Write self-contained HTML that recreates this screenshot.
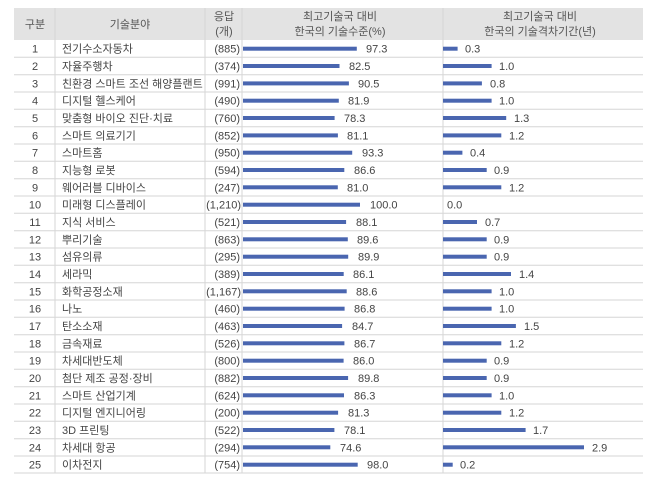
<!DOCTYPE html>
<html><head><meta charset="utf-8"><style>
html,body{margin:0;padding:0;background:#fff;}
svg{display:block;}
text{font-family:"Liberation Sans","Noto Sans CJK KR",sans-serif;font-size:11px;fill:#444;}
.h{font-size:11px;fill:#555;}
.n{text-anchor:middle;}
.r{text-anchor:end;}
.b{fill:#4a66b0;}
.l{stroke:#d6d6d6;stroke-width:1;}
</style></head><body>
<svg width="670" height="479" viewBox="0 0 670 479">
<rect x="14" y="8" width="629" height="32" fill="#e3e3e3"/>
<text class="h n" x="35" y="28">구분</text>
<text class="h n" x="130" y="28">기술분야</text>
<text class="h n" x="224" y="20">응답</text>
<text class="h n" x="224" y="35">(개)</text>
<text class="h n" x="340" y="20">최고기술국 대비</text>
<text class="h n" x="340" y="35">한국의 기술수준(%)</text>
<text class="h n" x="540" y="20">최고기술국 대비</text>
<text class="h n" x="540" y="35">한국의 기술격차기간(년)</text>
<line class="l" x1="55" y1="8" x2="55" y2="473"/>
<line class="l" x1="205" y1="8" x2="205" y2="473"/>
<line class="l" x1="242" y1="8" x2="242" y2="473"/>
<line class="l" x1="443" y1="8" x2="443" y2="473"/>
<g class="l">
<line x1="14" y1="57.3" x2="643" y2="57.3"/><line x1="14" y1="74.7" x2="643" y2="74.7"/><line x1="14" y1="92" x2="643" y2="92"/><line x1="14" y1="109.3" x2="643" y2="109.3"/><line x1="14" y1="126.7" x2="643" y2="126.7"/><line x1="14" y1="144" x2="643" y2="144"/><line x1="14" y1="161.3" x2="643" y2="161.3"/><line x1="14" y1="178.7" x2="643" y2="178.7"/><line x1="14" y1="196" x2="643" y2="196"/><line x1="14" y1="213.3" x2="643" y2="213.3"/><line x1="14" y1="230.7" x2="643" y2="230.7"/><line x1="14" y1="248" x2="643" y2="248"/><line x1="14" y1="265.3" x2="643" y2="265.3"/><line x1="14" y1="282.7" x2="643" y2="282.7"/><line x1="14" y1="300" x2="643" y2="300"/><line x1="14" y1="317.3" x2="643" y2="317.3"/><line x1="14" y1="334.7" x2="643" y2="334.7"/><line x1="14" y1="352" x2="643" y2="352"/><line x1="14" y1="369.3" x2="643" y2="369.3"/><line x1="14" y1="386.7" x2="643" y2="386.7"/><line x1="14" y1="404" x2="643" y2="404"/><line x1="14" y1="421.3" x2="643" y2="421.3"/><line x1="14" y1="438.7" x2="643" y2="438.7"/><line x1="14" y1="456" x2="643" y2="456"/><line x1="14" y1="473" x2="643" y2="473"/>
</g>
<!-- numbers -->
<g class="n">
<text x="35" y="52.7">1</text><text x="35" y="70">2</text><text x="35" y="87.4">3</text><text x="35" y="104.7">4</text><text x="35" y="122">5</text><text x="35" y="139.4">6</text><text x="35" y="156.7">7</text><text x="35" y="174">8</text><text x="35" y="191.3">9</text><text x="35" y="208.7">10</text><text x="35" y="226">11</text><text x="35" y="243.3">12</text><text x="35" y="260.7">13</text><text x="35" y="278">14</text><text x="35" y="295.3">15</text><text x="35" y="312.7">16</text><text x="35" y="330">17</text><text x="35" y="347.3">18</text><text x="35" y="364.7">19</text><text x="35" y="382">20</text><text x="35" y="399.3">21</text><text x="35" y="416.7">22</text><text x="35" y="434">23</text><text x="35" y="451.3">24</text><text x="35" y="468.7">25</text>
</g>
<g>
<text x="62" y="52.7">전기수소자동차</text><text x="62" y="70">자율주행차</text><text x="62" y="87.4">친환경 스마트 조선 해양플랜트</text><text x="62" y="104.7">디지털 헬스케어</text><text x="62" y="122">맞춤형 바이오 진단·치료</text><text x="62" y="139.4">스마트 의료기기</text><text x="62" y="156.7">스마트홈</text><text x="62" y="174">지능형 로봇</text><text x="62" y="191.3">웨어러블 디바이스</text><text x="62" y="208.7">미래형 디스플레이</text><text x="62" y="226">지식 서비스</text><text x="62" y="243.3">뿌리기술</text><text x="62" y="260.7">섬유의류</text><text x="62" y="278">세라믹</text><text x="62" y="295.3">화학공정소재</text><text x="62" y="312.7">나노</text><text x="62" y="330">탄소소재</text><text x="62" y="347.3">금속재료</text><text x="62" y="364.7">차세대반도체</text><text x="62" y="382">첨단 제조 공정·장비</text><text x="62" y="399.3">스마트 산업기계</text><text x="62" y="416.7">디지털 엔지니어링</text><text x="62" y="434">3D 프린팅</text><text x="62" y="451.3">차세대 항공</text><text x="62" y="468.7">이차전지</text>
</g>
<g class="r">
<text x="240" y="52.7">(885)</text><text x="240" y="70">(374)</text><text x="240" y="87.4">(991)</text><text x="240" y="104.7">(490)</text><text x="240" y="122">(760)</text><text x="240" y="139.4">(852)</text><text x="240" y="156.7">(950)</text><text x="240" y="174">(594)</text><text x="240" y="191.3">(247)</text><text x="241" y="208.7">(1,210)</text><text x="240" y="226">(521)</text><text x="240" y="243.3">(863)</text><text x="240" y="260.7">(295)</text><text x="240" y="278">(389)</text><text x="241" y="295.3">(1,167)</text><text x="240" y="312.7">(460)</text><text x="240" y="330">(463)</text><text x="240" y="347.3">(526)</text><text x="240" y="364.7">(800)</text><text x="240" y="382">(882)</text><text x="240" y="399.3">(624)</text><text x="240" y="416.7">(200)</text><text x="240" y="434">(522)</text><text x="240" y="451.3">(294)</text><text x="240" y="468.7">(754)</text>
</g>
<!-- bar1 -->
<g class="b">
<rect x="243" y="46.7" width="113.8" height="4"/><rect x="243" y="64" width="96.5" height="4"/><rect x="243" y="81.4" width="105.9" height="4"/><rect x="243" y="98.7" width="95.8" height="4"/><rect x="243" y="116" width="91.6" height="4"/><rect x="243" y="133.4" width="94.9" height="4"/><rect x="243" y="150.7" width="109.2" height="4"/><rect x="243" y="168" width="101.3" height="4"/><rect x="243" y="185.3" width="94.8" height="4"/><rect x="243" y="202.7" width="117" height="4"/><rect x="243" y="220" width="103.1" height="4"/><rect x="243" y="237.3" width="104.8" height="4"/><rect x="243" y="254.7" width="105.2" height="4"/><rect x="243" y="272" width="100.7" height="4"/><rect x="243" y="289.3" width="103.7" height="4"/><rect x="243" y="306.7" width="101.6" height="4"/><rect x="243" y="324" width="99.1" height="4"/><rect x="243" y="341.3" width="101.4" height="4"/><rect x="243" y="358.7" width="100.6" height="4"/><rect x="243" y="376" width="105.1" height="4"/><rect x="243" y="393.3" width="101" height="4"/><rect x="243" y="410.7" width="95.1" height="4"/><rect x="243" y="428" width="91.4" height="4"/><rect x="243" y="445.3" width="87.3" height="4"/><rect x="243" y="462.7" width="114.7" height="4"/>
</g>
<g>
<text x="366" y="52.7">97.3</text><text x="349" y="70">82.5</text><text x="358" y="87.4">90.5</text><text x="348" y="104.7">81.9</text><text x="344" y="122">78.3</text><text x="347" y="139.4">81.1</text><text x="362" y="156.7">93.3</text><text x="354" y="174">86.6</text><text x="347" y="191.3">81.0</text><text x="370" y="208.7">100.0</text><text x="356" y="226">88.1</text><text x="357" y="243.3">89.6</text><text x="358" y="260.7">89.9</text><text x="353" y="278">86.1</text><text x="356" y="295.3">88.6</text><text x="354" y="312.7">86.8</text><text x="352" y="330">84.7</text><text x="354" y="347.3">86.7</text><text x="353" y="364.7">86.0</text><text x="358" y="382">89.8</text><text x="354" y="399.3">86.3</text><text x="348" y="416.7">81.3</text><text x="344" y="434">78.1</text><text x="340" y="451.3">74.6</text><text x="367" y="468.7">98.0</text>
</g>
<!-- bar2 -->
<g class="b">
<rect x="443" y="46.7" width="14.6" height="4"/><rect x="443" y="64" width="48.6" height="4"/><rect x="443" y="81.4" width="38.9" height="4"/><rect x="443" y="98.7" width="48.6" height="4"/><rect x="443" y="116" width="63.2" height="4"/><rect x="443" y="133.4" width="58.3" height="4"/><rect x="443" y="150.7" width="19.4" height="4"/><rect x="443" y="168" width="43.7" height="4"/><rect x="443" y="185.3" width="58.3" height="4"/><rect x="443" y="220" width="34" height="4"/><rect x="443" y="237.3" width="43.7" height="4"/><rect x="443" y="254.7" width="43.7" height="4"/><rect x="443" y="272" width="68" height="4"/><rect x="443" y="289.3" width="48.6" height="4"/><rect x="443" y="306.7" width="48.6" height="4"/><rect x="443" y="324" width="72.9" height="4"/><rect x="443" y="341.3" width="58.3" height="4"/><rect x="443" y="358.7" width="43.7" height="4"/><rect x="443" y="376" width="43.7" height="4"/><rect x="443" y="393.3" width="48.6" height="4"/><rect x="443" y="410.7" width="58.3" height="4"/><rect x="443" y="428" width="82.6" height="4"/><rect x="443" y="445.3" width="141" height="4"/><rect x="443" y="462.7" width="9.7" height="4"/>
</g>
<g>
<text x="465" y="52.7">0.3</text><text x="499" y="70">1.0</text><text x="490" y="87.4">0.8</text><text x="499" y="104.7">1.0</text><text x="514" y="122">1.3</text><text x="509" y="139.4">1.2</text><text x="470" y="156.7">0.4</text><text x="494" y="174">0.9</text><text x="509" y="191.3">1.2</text><text x="447" y="208.7">0.0</text><text x="485" y="226">0.7</text><text x="494" y="243.3">0.9</text><text x="494" y="260.7">0.9</text><text x="519" y="278">1.4</text><text x="499" y="295.3">1.0</text><text x="499" y="312.7">1.0</text><text x="524" y="330">1.5</text><text x="509" y="347.3">1.2</text><text x="494" y="364.7">0.9</text><text x="494" y="382">0.9</text><text x="499" y="399.3">1.0</text><text x="509" y="416.7">1.2</text><text x="533" y="434">1.7</text><text x="592" y="451.3">2.9</text><text x="460" y="468.7">0.2</text>
</g>
</svg>
</body></html>
